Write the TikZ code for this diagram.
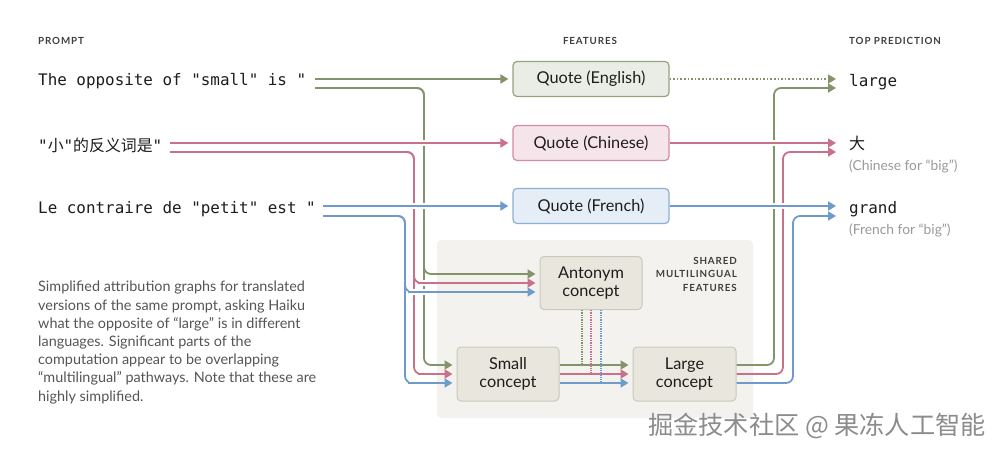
\documentclass[tikz,border=0pt]{standalone}
\usepackage{fontspec}
\setmainfont{Lato}
\setmonofont{DejaVu Sans Mono}
\newfontfamily\cjk{Noto Sans CJK SC}
\newfontfamily\hdfont[LetterSpace=9]{Lato}
\usetikzlibrary{arrows.meta,calc}
\definecolor{cg}{HTML}{83946A}
\definecolor{cp}{HTML}{C8718B}
\definecolor{cb}{HTML}{6F9BCB}
\definecolor{ink}{HTML}{1E1D1B}
\definecolor{capc}{HTML}{555555}
\definecolor{subc}{HTML}{9A9A9A}
\definecolor{sharedbg}{HTML}{F3F2EE}
\definecolor{cfill}{HTML}{E8E6DD}
\definecolor{cdraw}{HTML}{CBC8BD}
\newcommand\bridge[3]{%
  \draw[white,line width=6pt] (#1-5,#2) -- (#1+5,#2);
  \draw[#3,line width=1.8pt] (#1-6,#2) -- (#1+6,#2);}
\tikzset{
  conn/.style={line width=1.8pt, rounded corners=7pt, -{Triangle[length=8pt,width=9pt]}, shorten >=4pt},
  dotconn/.style={line width=1.6pt, dotted, -{Triangle[length=8pt,width=9pt]}, shorten >=4pt},
  antdot/.style={line width=1.3pt, densely dotted},
  hd/.style={font=\hdfont\bfseries\fontsize{9.8}{13.5}\selectfont, text=ink!85, inner sep=0pt},
  qbox/.style={draw, rounded corners=4pt, line width=1.2pt, minimum width=156pt, minimum height=35pt, text=ink, font=\fontsize{16.3}{18}\selectfont},
  cbox/.style={draw=cdraw, fill=cfill, rounded corners=4pt, line width=1pt, text=ink, align=center, font=\fontsize{16.3}{18.5}\selectfont},
  prompt/.style={anchor=west, inner sep=0pt, text=ink, font=\ttfamily\fontsize{15.9}{18}\selectfont},
  pred/.style={anchor=west, inner sep=0pt, text=ink, font=\ttfamily\fontsize{15.9}{18}\selectfont},
  predsub/.style={anchor=west, inner sep=0pt, text=subc, font=\fontsize{13.8}{15}\selectfont},
}
\begin{document}
\begin{tikzpicture}[x=1pt,y=-1pt]
\useasboundingbox[fill=white] (0,0) rectangle (1000,455);

% headers
\node[hd, anchor=west] (hprompt) at (38,41) {PROMPT};
\node[hd] (hfeat) at (590,41) {FEATURES};
\node[hd, anchor=west] (hpred) at (849,41) {TOP PREDICTION};

% prompts
\node[prompt] (p1) at (38,81) {The opposite of "small" is "};
\node[prompt] (p2) at (38,145) {"{\cjk 小}"{\cjk 的反义词是}"};
\node[prompt] (p3) at (38,209) {Le contraire de "petit" est "};

% shared region
\fill[sharedbg, rounded corners=4pt] (437,240) rectangle (753,418);
\node[hd, align=right, anchor=north east, font=\hdfont\bfseries\fontsize{9.8}{13.6}\selectfont] (shared) at (737,257) {SHARED\\MULTILINGUAL\\FEATURES};

% feature boxes
\node[qbox, draw=cg!85, fill=cg!17] (qe) at (591,79) {Quote (English)};
\node[qbox, draw=cp!80, fill=cp!18] (qc) at (591,143) {Quote (Chinese)};
\node[qbox, draw=cb!80, fill=cb!18] (qf) at (591,206) {Quote (French)};
\node[cbox, minimum width=102pt, minimum height=53pt] (ant) at (591,283) {Antonym\\concept};
\node[cbox, minimum width=102pt, minimum height=54pt] (sm) at (508,374) {Small\\concept};
\node[cbox, minimum width=103pt, minimum height=54pt] (lg) at (684.5,374) {Large\\concept};

% predictions
\node[pred] (ol) at (849,82) {large};
\node[pred, font=\cjk\fontsize{16}{18}\selectfont] (oc) at (849,143) {大};
\node[predsub] (ocs) at (849,166) {(Chinese for “big”)};
\node[pred] (of) at (849,209) {grand};
\node[predsub] (ofs) at (849,230) {(French for “big”)};

% caption
\node[anchor=north west, align=left, inner sep=0pt, text=capc, font=\fontsize{14.4}{18.2}\selectfont] (cap) at (38,281)
{Simplified attribution graphs for translated\\
versions of the same prompt, asking Haiku\\
what the opposite of “large” is in different\\
languages. Significant parts of the\\
computation appear to be overlapping\\
“multilingual” pathways. Note that these are\\
highly simplified.};

% watermark
\node[anchor=west, inner sep=0pt, text=black!45, font=\cjk\fontsize{25.2}{27}\selectfont] (wm) at (648,426) {掘金技术社区 @ 果冻人工智能};

% named coordinates
\coordinate (g1s) at (315,79);
\coordinate (g2s) at (315,88);
\coordinate (p1s) at (170,143);
\coordinate (p2s) at (170,152);
\coordinate (b1s) at (323,206);
\coordinate (b2s) at (323,216);
\coordinate (gl) at (424,0);
\coordinate (pl) at (414,0);
\coordinate (bl) at (405,0);
\coordinate (gr) at (774,0);
\coordinate (pr) at (783,0);
\coordinate (br) at (793,0);
\coordinate (ya1) at (0,274);
\coordinate (ya2) at (0,283);
\coordinate (ya3) at (0,292);
\coordinate (ys1) at (0,365);
\coordinate (ys2) at (0,374);
\coordinate (ys3) at (0,383);
\coordinate (tl1) at (840,79);
\coordinate (tl2) at (840,88);
\coordinate (tc1) at (840,143);
\coordinate (tc2) at (840,152);
\coordinate (tf1) at (840,206);
\coordinate (tf2) at (840,216);
\coordinate (dg) at (582,0);
\coordinate (dp) at (591,0);
\coordinate (db) at (601,0);

% left: to antonym and small concept
\draw[conn, cg] (g2s) -| (gl |- ya1) -- (ant.west |- ya1);
\draw[conn, cg] (g2s) -| (gl |- ys1) -- (sm.west |- ys1);
\draw[conn, cp] (p2s) -| (pl |- ya2) -- (ant.west |- ya2);
\draw[conn, cp] (p2s) -| (pl |- ys2) -- (sm.west |- ys2);
\draw[conn, cb] (b2s) -| (bl |- ya3) -- (ant.west |- ya3);
\draw[conn, cb] (b2s) -| (bl |- ys3) -- (sm.west |- ys3);

% left: to quote boxes
\draw[conn, cg] (g1s) -- (qe.west);
\draw[conn, cp] (p1s) -- (qc.west);
\draw[conn, cb] (b1s) -- (qf.west);

% bridges on the left
\bridge{424}{143}{cp}
\bridge{414}{206}{cb}
\bridge{424}{206}{cb}
\bridge{424}{283}{cp}
\bridge{414}{292}{cb}
\bridge{424}{292}{cb}
\bridge{424}{374}{cp}
\bridge{414}{383}{cb}
\bridge{424}{383}{cb}

% small -> large
\draw[conn, cg] (sm.east |- ys1) -- (lg.west |- ys1);
\draw[conn, cp] (sm.east |- ys2) -- (lg.west |- ys2);
\draw[conn, cb] (sm.east |- ys3) -- (lg.west |- ys3);

% antonym dotted influences
\draw[antdot, cg] (ant.south -| dg) -- (dg |- ys1);
\draw[antdot, cp] (ant.south -| dp) -- (dp |- ys2);
\draw[antdot, cb] (ant.south -| db) -- (db |- ys3);

% large -> predictions
\draw[conn, cg] (lg.east |- ys1) -| (gr |- tl2) -- (tl2);
\draw[conn, cp] (lg.east |- ys2) -| (pr |- tc2) -- (tc2);
\draw[conn, cb] (lg.east |- ys3) -| (br |- tf2) -- (tf2);

% quotes -> predictions
\draw[dotconn, cg] (qe.east) -- (tl1);
\draw[conn, cp] (qc.east) -- (tc1);
\draw[conn, cb] (qf.east) -- (tf1);
\bridge{774}{143}{cp}
\bridge{774}{206}{cb}
\bridge{783}{206}{cb}
\end{tikzpicture}
\end{document}
